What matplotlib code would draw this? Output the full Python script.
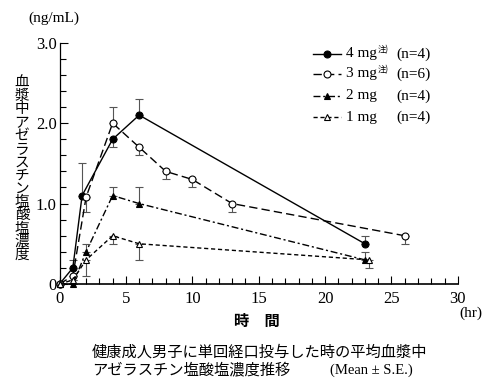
import matplotlib
matplotlib.use("Agg")
import matplotlib.pyplot as plt
from matplotlib.lines import Line2D
from matplotlib.ticker import MultipleLocator

SERIF = ["Liberation Serif", "DejaVu Serif"]
JP = ["Noto Sans CJK JP", "DejaVu Sans"]

# 4 mg
t4 = [0, 1, 1.7, 4, 6, 23]
c4 = [0, 0.2, 1.1, 1.8, 2.1, 0.5]
lo4 = [0, 0, 0, 0.1, 0, 0]
hi4 = [0, 0.1, 0.4, 0, 0.2, 0.1]

# 3 mg
t3 = [0, 1, 2, 4, 6, 8, 10, 13, 26]
c3 = [0, 0.1, 1.08, 2.0, 1.7, 1.4, 1.3, 1.0, 0.6]
lo3 = [0, 0, 0.18, 0, 0.1, 0.1, 0.1, 0.1, 0.1]
hi3 = [0, 0, 0, 0.2, 0, 0, 0, 0, 0]

# 2 mg
t2 = [0, 1, 2, 4, 6, 23]
c2 = [0, 0, 0.4, 1.1, 1.0, 0.3]
lo2 = [0, 0, 0, 0, 0, 0]
hi2 = [0, 0, 0.1, 0.1, 0.2, 0.1]

# 1 mg
t1 = [0, 1, 2, 4, 6, 23.3]
c1 = [0, 0.05, 0.3, 0.6, 0.5, 0.3]
lo1 = [0, 0, 0.2, 0.1, 0.2, 0.1]
hi1 = [0, 0, 0, 0, 0, 0]

doses = ["4 mg", "3 mg", "2 mg", "1 mg"]
notes = ["注)", "注)", "", ""]
counts = ["(n=4)", "(n=6)", "(n=4)", "(n=4)"]

series = [
    (t4, c4, lo4, hi4, "-", "o", "black"),
    (t3, c3, lo3, hi3, (0, (6, 3)), "o", "white"),
    (t2, c2, lo2, hi2, (0, (5, 2, 1.5, 2)), "^", "black"),
    (t1, c1, lo1, hi1, (0, (3, 2)), "^", "white"),
]

fig = plt.figure(figsize=(4.84, 3.92), dpi=100)
ax = fig.add_axes([0.123, 0.2755, 0.823, 0.6155])

for t, c, lo, hi, ls, mk, fc in series:
    ax.errorbar(t, c, yerr=[lo, hi], fmt="none", ecolor="#555555",
                elinewidth=0.8, capsize=3, capthick=0.8, zorder=2)
    ax.plot(t, c, linestyle=ls, color="black", linewidth=1.0, marker=mk,
            markersize=5, markerfacecolor=fc, markeredgecolor="black",
            markeredgewidth=0.8, zorder=3, clip_on=False)

ax.set_xlim(0, 30)
ax.set_ylim(0, 3.0)
ax.xaxis.set_major_locator(MultipleLocator(5))
ax.xaxis.set_minor_locator(MultipleLocator(1))
ax.yaxis.set_minor_locator(MultipleLocator(0.2))
ax.set_yticks([0, 1, 2, 3])
ax.set_yticklabels(["0", "1.0", "2.0", "3.0"])
ax.tick_params(which="both", direction="in", width=0.8, labelsize=12)
ax.tick_params(axis="x", pad=5)
ax.tick_params(axis="y", pad=2)
ax.tick_params(which="major", length=6)
ax.tick_params(which="minor", length=4)
for lab in ax.get_xticklabels() + ax.get_yticklabels():
    lab.set_fontfamily(SERIF)
for s in ["top", "right"]:
    ax.spines[s].set_visible(False)
ax.spines["left"].set_linewidth(0.9)
ax.spines["bottom"].set_linewidth(1.2)

# legend drawn by hand
renderer = fig.canvas.get_renderer()
row_y = [54, 74, 96, 117]
for i, (t, c, lo, hi, ls, mk, fc) in enumerate(series):
    y = 1 - row_y[i] / 392
    fig.add_artist(Line2D([313 / 484, 341 / 484], [y, y], transform=fig.transFigure,
                          linestyle=ls, color="black", linewidth=1.0))
    fig.add_artist(Line2D([327 / 484], [y], transform=fig.transFigure,
                          marker=mk, markersize=5, markerfacecolor=fc,
                          markeredgecolor="black", markeredgewidth=0.8))
    d = fig.text(346 / 484, y, doses[i], fontsize=11, family=SERIF, va="center")
    if notes[i]:
        bb = d.get_window_extent(renderer)
        fig.text((bb.x1 + 1) / 484, y + 0.012, notes[i], fontsize=6, family=JP,
                 va="center")
    fig.text(396 / 484, y, counts[i], fontsize=11, family=SERIF, va="center")

fig.text(28 / 484, 1 - 18 / 392, "(ng/mL)", fontsize=11, family=SERIF, va="center")
fig.text(482 / 484, 1 - 313 / 392, "(hr)", fontsize=11, family=SERIF,
         ha="right", va="center")
fig.text(257 / 484, 1 - 321 / 392, "時　間", fontsize=11, family=JP,
         fontweight="bold", ha="center", va="center")

ylab = "血漿中アゼラスチン塩酸塩濃度"
fig.text(22 / 484, 1 - 169 / 392, "\n".join(ylab), fontsize=10.5, family=JP,
         ha="center", va="center", linespacing=0.93)

fig.text(92 / 484, 1 - 352 / 392, "健康成人男子に単回経口投与した時の平均血漿中",
         fontsize=11, family=JP, va="center")
fig.text(92 / 484, 1 - 370 / 392, "アゼラスチン塩酸塩濃度推移",
         fontsize=11, family=JP, va="center")
fig.text(330 / 484, 1 - 370 / 392, "(Mean ± S.E.)",
         fontsize=10.5, family=SERIF, va="center")

fig.savefig("out.png", dpi=100)
